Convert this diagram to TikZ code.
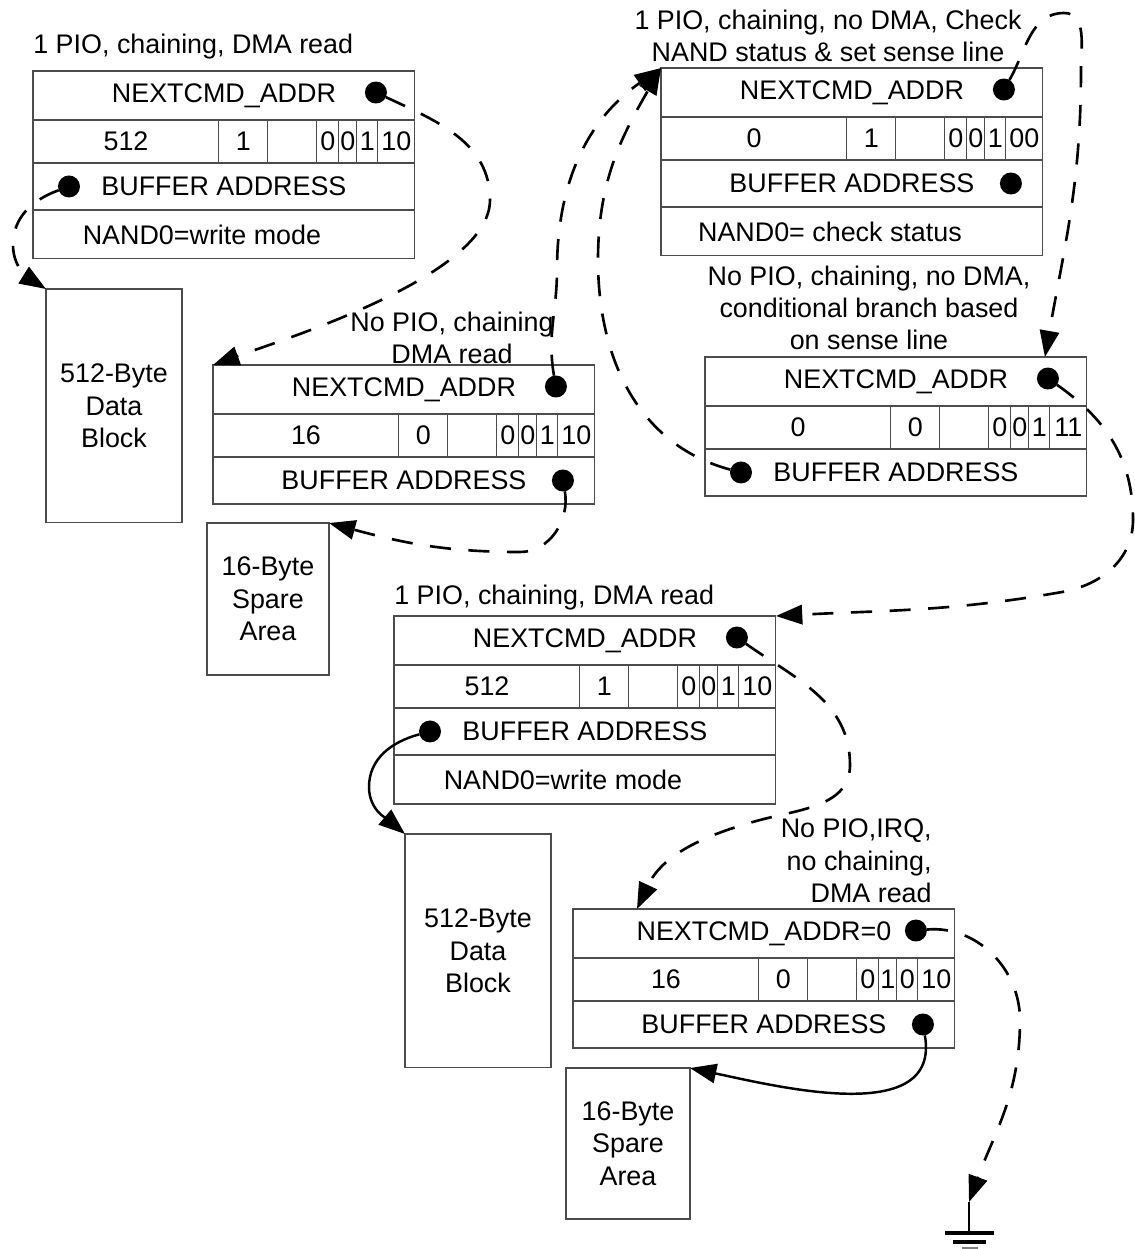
\documentclass[tikz,border=0pt]{standalone}
\usepackage{fontspec}
\setmainfont{Liberation Sans}
\usetikzlibrary{arrows.meta, positioning}

% one command descriptor: name, top left corner, next pointer, count, irq, four flag fields
\newcommand{\cmdblock}[9]{%
    \node[field, anchor=north west] (#1-next) at #2 {#3};
    \node[cell, minimum width=3.72cm, anchor=north west] (#1-cnt) at (#1-next.south west) {#4};
    \node[cell, minimum width=0.98cm, right=0pt of #1-cnt] (#1-irq) {#5};
    \node[cell, minimum width=0.98cm, right=0pt of #1-irq] (#1-wt) {};
    \node[cell, minimum width=0.44cm, right=0pt of #1-wt] (#1-fa) {#6};
    \node[cell, minimum width=0.36cm, right=0pt of #1-fa] (#1-fb) {#7};
    \node[cell, minimum width=0.42cm, right=0pt of #1-fb] (#1-fc) {#8};
    \node[cell, minimum width=0.74cm, right=0pt of #1-fc] (#1-fd) {#9};
    \node[field, minimum height=0.94cm, anchor=north west] (#1-buf) at (#1-cnt.south west) {BUFFER ADDRESS};
    \node[dot] (#1-nd) at ([xshift=-0.78cm, yshift=0.06cm]#1-next.east) {};
}
% optional fourth row
\newcommand{\cmdmode}[2]{%
    \node[field, anchor=north west] (#1-mode) at (#1-buf.south west) {};
    \node (#1-modetxt) at ([xshift=-0.44cm]#1-mode.center) {#2};
}

\begin{document}
\begin{tikzpicture}[
        x=0.02cm, y=0.02cm,
        font=\fontsize{15.3}{18.4}\selectfont,
        field/.style={
            draw=black!70, 
            line width=0.6pt, 
            minimum width=7.64cm, 
            minimum height=0.98cm, 
            inner sep=0pt, 
            outer sep=0pt
        },
        cell/.style={
            draw=black!70, 
            line width=0.6pt, 
            minimum height=0.86cm, 
            inner sep=0pt, 
            outer sep=0pt
        },
        datablock/.style={
            draw=black!70, 
            line width=0.6pt, 
            align=center, 
            anchor=north west, 
            inner sep=0pt, 
            outer sep=0pt
        },
        dot/.style={circle, fill=black, minimum size=0.44cm, inner sep=0pt, outer sep=0pt},
        lbl/.style={align=center, inner sep=0pt},
        link/.style={
            -{Triangle[length=15pt, width=11pt]}, 
            line width=1.5pt, 
            dash pattern=on 12pt off 10pt
        },
        ptr/.style={
            -{Triangle[length=15pt, width=11pt]}, 
            line width=1.4pt
        }
    ]
        \useasboundingbox (0,0) rectangle (1135,-1249);

        % Nodes
        \cmdblock{A}{(33,-71)}{NEXTCMD\_ADDR}{512}{1}{0}{0}{1}{10}
        \cmdmode{A}{NAND0=write mode}
        \node[dot] (A-bd) at ([xshift=0.72cm]A-buf.west) {};
        \node[lbl, anchor=west] (A-lbl) at (33,-47) {1 PIO, chaining, DMA read};
        \node[datablock, minimum width=2.72cm, minimum height=4.68cm] (A-data) at (46,-289) {512-Byte\\Data\\Block};

        \cmdblock{B}{(661,-68)}{NEXTCMD\_ADDR}{0}{1}{0}{0}{1}{00}
        \cmdmode{B}{NAND0= check status}
        \node[dot] (B-bd) at ([xshift=-0.64cm]B-buf.east) {};
        \node[lbl] (B-lbl) at (828,-36) {1 PIO, chaining, no DMA, Check\\NAND status \& set sense line};

        \cmdblock{C}{(213,-365)}{NEXTCMD\_ADDR}{16}{0}{0}{0}{1}{10}
        \node[dot] (C-bd) at ([xshift=-0.64cm]C-buf.east) {};
        \node[lbl] (C-lbl) at (452,-338) {No PIO, chaining\\DMA read};
        \node[datablock, minimum width=2.44cm, minimum height=3.04cm] (C-spare) at (207,-523) {16-Byte\\Spare\\Area};

        \cmdblock{D}{(705,-357)}{NEXTCMD\_ADDR}{0}{0}{0}{0}{1}{11}
        \node[dot] (D-bd) at ([xshift=0.72cm]D-buf.west) {};
        \node[lbl] (D-lbl) at (869,-308) {No PIO, chaining, no DMA,\\conditional branch based\\on sense line};
        \coordinate (D-in) at ([xshift=-0.84cm]D-next.north east);

        \cmdblock{E}{(394,-616)}{NEXTCMD\_ADDR}{512}{1}{0}{0}{1}{10}
        \cmdmode{E}{NAND0=write mode}
        \node[dot] (E-bd) at ([xshift=0.72cm]E-buf.west) {};
        \node[lbl, anchor=west] (E-lbl) at (394,-598) {1 PIO, chaining, DMA read};
        \node[datablock, minimum width=2.92cm, minimum height=4.68cm] (E-data) at (405,-834) {512-Byte\\Data\\Block};

        \cmdblock{F}{(573,-909)}{NEXTCMD\_ADDR=0}{16}{0}{0}{1}{0}{10}
        \node[dot] (F-bd) at ([xshift=-0.64cm]F-buf.east) {};
        \node[lbl, align=right, anchor=east] (F-lbl) at (932,-861) {No PIO,IRQ,\\no chaining,\\DMA read};
        \node[datablock, minimum width=2.48cm, minimum height=3.02cm] (F-spare) at (566,-1068) {16-Byte\\Spare\\Area};
        \coordinate (F-in) at ([xshift=1.28cm]F-next.north west);

        % Ground
        \coordinate (gnd) at (969,-1202);
        \draw[line width=1.5pt] (gnd) -- ++(0,-31) coordinate (gnd-bar);
        \draw[line width=1.8pt] ([xshift=-0.48cm]gnd-bar) -- ([xshift=0.5cm]gnd-bar);
        \draw[line width=1.8pt] ([shift={(-16,-9)}]gnd-bar) -- ([shift={(17,-9)}]gnd-bar);
        \draw[black!50, line width=1pt] ([shift={(-7,-15)}]gnd-bar) -- ([shift={(9,-15)}]gnd-bar);

        % Edges
        \draw[link] (A-nd) to[out=-25,in=90] (490,-200) to[out=-90,in=20,looseness=0.6] (C-next.north west);
        \draw[link] (A-bd) to[out=200,in=90] (13,-245) to[out=-90,in=148] (A-data.north west);
        \draw[link] (C-nd) to[out=100,in=-90] (557,-270) to[out=90,in=215] (B-next.north west);
        \draw[link] (D-bd) to[out=165,in=-90] (598,-260) to[out=90,in=240] (B-next.north west);
        \draw[link] (C-bd) to[out=-80,in=0] (520,-552) to[out=180,in=-15] (C-spare.north east);
        \draw[link] (B-nd) to[out=60,in=180] (1064,-13) to[out=0,in=90] (1081,-70) to[out=-90,in=80] (D-in);
        \draw[link] (D-nd) to[out=-35,in=90] (1133,-520) to[out=-90,in=10] (1062,-592) to[out=190,in=3] (E-next.north east);
        \draw[link] (E-nd) to[out=-35,in=90] (850,-765) to[out=-90,in=15] (760,-820) to[out=195,in=65] (F-in);
        \draw[ptr] (E-bd) to[out=195,in=90] (369,-787) to[out=-90,in=140] (E-data.north west);
        \draw[link] (F-nd) to[out=5,in=90] (1020,-1020) to[out=-90,in=70] (gnd);
        \draw[ptr] (F-bd) to[out=-80,in=-12] (F-spare.north east);
    \end{tikzpicture}
\end{document}
